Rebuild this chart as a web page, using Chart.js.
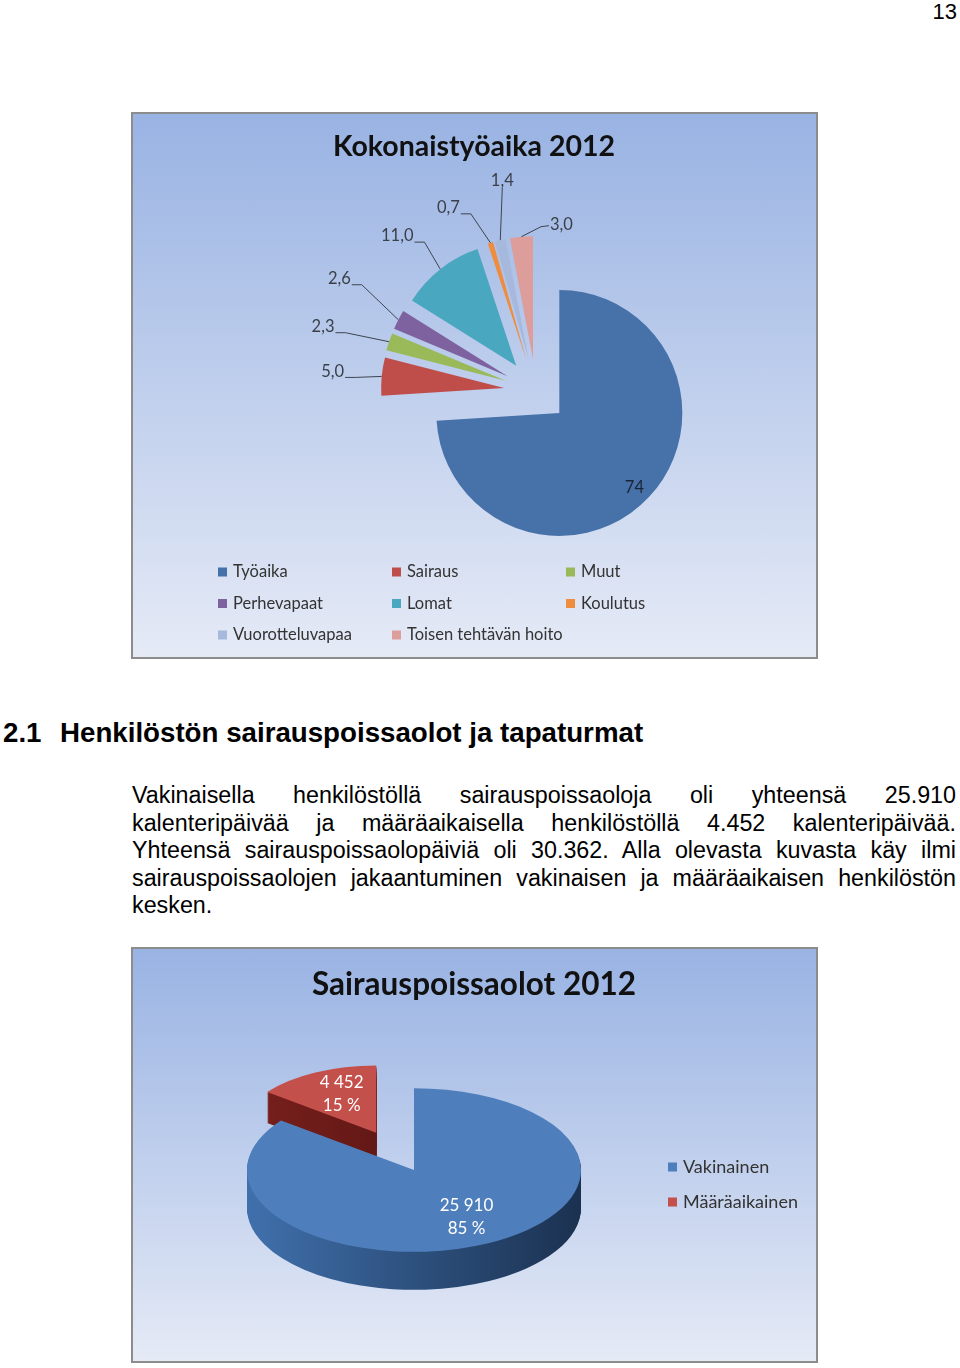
<!DOCTYPE html>
<html lang="fi">
<head>
<meta charset="utf-8">
<title>Kokonaistyöaika ja sairauspoissaolot 2012</title>
<script src="https://cdn.jsdelivr.net/npm/chart.js@4.4.1/dist/chart.umd.min.js"></script>
<style>
  html, body { margin: 0; padding: 0; background: #fff; }
  #page { position: relative; width: 960px; height: 1368px; overflow: hidden;
          font-family: "Liberation Sans", Arial, sans-serif; color: #000; }
  .pageno { position: absolute; right: 3px; top: -1px; font-size: 22px; }
  .box { position: absolute; left: 131px; width: 683px; border: 2px solid #8c8c8c;
         background: linear-gradient(to bottom, #99b3e3, #e5eaf6); }
  #box1 { top: 112px; height: 543px; }
  #box2 { top: 947px; height: 412px; }
  .box canvas { display: block; }
  .heading { position: absolute; top: 717px; margin: 0; font-size: 27.7px; font-weight: bold; white-space: nowrap; }
  .para { position: absolute; left: 132px; top: 782px; width: 824px; font-size: 23.3px; line-height: 27.5px; }
  .para .line { text-align: justify; text-align-last: justify; }
  .para .last { text-align: left; }
</style>
</head>
<body>
<div id="page">
  <div class="pageno">13</div>

  <div class="box" id="box1"><canvas id="workChart" width="683" height="543"></canvas></div>

  <div class="heading" style="left:3px">2.1</div>
  <div class="heading" style="left:60px">Henkilöstön sairauspoissaolot ja tapaturmat</div>

  <div class="para">
    <div class="line">Vakinaisella henkilöstöllä sairauspoissaoloja oli yhteensä 25.910</div>
    <div class="line">kalenteripäivää ja määräaikaisella henkilöstöllä 4.452 kalenteripäivää.</div>
    <div class="line">Yhteensä sairauspoissaolopäiviä oli 30.362. Alla olevasta kuvasta käy ilmi</div>
    <div class="line">sairauspoissaolojen jakaantuminen vakinaisen ja määräaikaisen henkilöstön</div>
    <div class="last">kesken.</div>
  </div>

  <div class="box" id="box2"><canvas id="sickChart" width="683" height="412"></canvas></div>
</div>

<script>
// Kokonaistyöaika 2012 (%)
const workLabels = ['Työaika', 'Sairaus', 'Muut', 'Perhevapaat', 'Lomat', 'Koulutus', 'Vuorotteluvapaa', 'Toisen tehtävän hoito'];
const workShares = [74, 5.0, 2.3, 2.6, 11.0, 0.7, 1.4, 3.0];
const workShareText = ['74', '5,0', '2,3', '2,6', '11,0', '0,7', '1,4', '3,0'];
const workColors = ['#4672a9', '#bf4e4b', '#9aba5a', '#7e62a0', '#4aa7c0', '#f08c3e', '#a6b8dc', '#dc9d9b'];

// Sairauspoissaolot 2012 (kalenteripäivää)
const sickLabels = ['Vakinainen', 'Määräaikainen'];
const sickDays = [25910, 4452];
const sickColors = ['#4e7fbc', '#c4504c'];
const sickSideColors = [['#4070ac', '#1b3150'], ['#7a201d', '#4d110f']];

// label placement relative to the slice edge (null = inside the slice)
const workLabelNudge = [null, [-49, -5], [-66, -15], [-59, -41], [-43, -33], [-42, -35], [2, -59], [40, -12]];
// fake 3D: vertical squash, wall depth, far slice drawn a bit smaller (perspective)
const SQUASH = 0.49;
const DEPTH = 38;
const sickExplode = [0, 85];
const sickPerspective = [1, 0.82];
const sickLabelRadius = [0.68, 0.6];

function explodeArcs(chart, gaps, scales) {
    const area = chart.chartArea;
    const cx = (area.left + area.right) / 2;
    const cy = (area.top + area.bottom) / 2;
    chart.getDatasetMeta(0).data.forEach(function(arc, i) {
        const mid = (arc.startAngle + arc.endAngle) / 2;
        arc.x = cx + Math.cos(mid) * gaps[i];
        arc.y = cy + Math.sin(mid) * gaps[i];
        if (scales) arc.outerRadius = chart.options.radius * scales[i];
    });
}

function spaced(n) {
    return String(n).replace(/\B(?=(\d{3})+(?!\d))/g, ' ');
}

const workDecor = {
    id: 'workDecor',
    afterUpdate(chart) {
        explodeArcs(chart, workShares.map(() => 32));
    },
    afterDraw(chart) {
        const ctx = chart.ctx;
        ctx.save();
        ctx.textAlign = 'center';
        ctx.textBaseline = 'middle';

        ctx.font = 'bold 28.5px Lato';
        ctx.fillStyle = '#111';
        ctx.fillText('Kokonaistyöaika 2012', 341, 33);

        ctx.font = '16.5px Lato';
        ctx.strokeStyle = '#3d444e';
        ctx.lineWidth = 1;
        chart.getDatasetMeta(0).data.forEach(function(arc, i) {
            const mid = (arc.startAngle + arc.endAngle) / 2;
            const dx = Math.cos(mid), dy = Math.sin(mid);
            const text = workShareText[i];
            const nudge = workLabelNudge[i];
            if (!nudge) {
                const r = arc.outerRadius * 0.86;
                ctx.fillStyle = '#1a2435';
                ctx.fillText(text, arc.x + dx * r - 2, arc.y + dy * r + 2);
                return;
            }
            const ax = arc.x + dx * arc.outerRadius;
            const ay = arc.y + dy * arc.outerRadius;
            const lx = ax + nudge[0], ly = ay + nudge[1];
            ctx.fillStyle = '#3a3f48';
            ctx.fillText(text, lx, ly);
            const half = ctx.measureText(text).width / 2;
            ctx.beginPath();
            if (Math.abs(nudge[0]) < 12) {
                ctx.moveTo(lx, ly + 7);
            } else if (nudge[0] < 0) {
                ctx.moveTo(lx + half + 1, ly + 6);
                ctx.lineTo(lx + half + 11, ly + 6);
            } else {
                ctx.moveTo(lx - half - 1, ly + 1);
                ctx.lineTo(lx - half - 9, ly + 2);
            }
            ctx.lineTo(ax, ay);
            ctx.stroke();
        });

        // legend, three columns
        const cols = [85, 259, 433];
        ctx.textAlign = 'left';
        workLabels.forEach(function(name, i) {
            const x = cols[i % 3];
            const y = 458 + Math.floor(i / 3) * 31.5;
            ctx.fillStyle = workColors[i];
            ctx.fillRect(x, y - 4.5, 9, 9);
            ctx.fillStyle = '#333';
            ctx.fillText(name, x + 15, y);
        });
        ctx.restore();
    }
};

const sickDecor = {
    id: 'sickDecor',
    afterUpdate(chart) {
        explodeArcs(chart, sickExplode, sickPerspective);
    },
    beforeDatasetsDraw(chart) {
        const ctx = chart.ctx;
        const area = chart.chartArea;
        const cx = (area.left + area.right) / 2;
        const cy = (area.top + area.bottom) / 2;
        ctx.save();
        ctx.translate(cx, cy);
        ctx.scale(1, SQUASH);
        ctx.translate(-cx, -cy);
        // side walls, back slice first
        const arcs = chart.getDatasetMeta(0).data;
        for (let i = arcs.length - 1; i >= 0; i--) {
            const arc = arcs[i];
            const g = ctx.createLinearGradient(arc.x - arc.outerRadius, 0, arc.x + arc.outerRadius, 0);
            g.addColorStop(0, sickSideColors[i][0]);
            g.addColorStop(1, sickSideColors[i][1]);
            const ghost = Object.create(arc);
            ghost.options = Object.assign({}, arc.options, { backgroundColor: g, borderColor: g, borderWidth: 0 });
            const depth = Math.round(DEPTH * sickPerspective[i]);
            for (let d = depth; d > 0; d--) {
                ctx.save();
                ctx.translate(0, d / SQUASH);
                ghost.draw(ctx);
                ctx.restore();
            }
        }
    },
    afterDatasetsDraw(chart) {
        chart.ctx.restore();
    },
    afterDraw(chart) {
        const ctx = chart.ctx;
        const area = chart.chartArea;
        const cy = (area.top + area.bottom) / 2;
        const total = sickDays.reduce((a, b) => a + b, 0);
        ctx.save();
        ctx.textAlign = 'center';
        ctx.textBaseline = 'middle';

        ctx.font = 'bold 31.5px Lato';
        ctx.fillStyle = '#111';
        ctx.fillText('Sairauspoissaolot 2012', 341, 36);

        ctx.font = '17px Lato';
        ctx.fillStyle = '#fff';
        chart.getDatasetMeta(0).data.forEach(function(arc, i) {
            const mid = (arc.startAngle + arc.endAngle) / 2;
            const r = arc.outerRadius * sickLabelRadius[i];
            const x = arc.x + Math.cos(mid) * r;
            const y = cy + (arc.y + Math.sin(mid) * r - cy) * SQUASH;
            ctx.fillText(spaced(sickDays[i]), x + 2, y - 14);
            ctx.fillText(Math.round(sickDays[i] / total * 100) + ' %', x + 2, y + 9);
        });

        ctx.font = '18px Lato';
        ctx.textAlign = 'left';
        sickLabels.forEach(function(name, i) {
            const y = 218 + i * 35;
            ctx.fillStyle = sickColors[i];
            ctx.fillRect(535, y - 4.5, 9, 9);
            ctx.fillStyle = '#333';
            ctx.fillText(name, 550, y);
        });
        ctx.restore();
    }
};

function drawCharts() {
    new Chart(document.getElementById('workChart'), {
        type: 'pie',
        data: {
            labels: workLabels,
            datasets: [{ data: workShares, backgroundColor: workColors, borderWidth: 0 }]
        },
        options: {
            responsive: false,
            animation: false,
            events: [],
            radius: 123,
            layout: { padding: { left: 133, right: 10, top: 21, bottom: 10 } },
            plugins: { legend: { display: false }, tooltip: { enabled: false } }
        },
        plugins: [workDecor]
    });

    new Chart(document.getElementById('sickChart'), {
        type: 'pie',
        data: {
            labels: sickLabels,
            datasets: [{ data: sickDays, backgroundColor: sickColors, borderWidth: 0, clip: false }]
        },
        options: {
            responsive: false,
            animation: false,
            events: [],
            radius: 167,
            layout: { padding: { left: 10, right: 131, top: 40, bottom: 10 } },
            plugins: { legend: { display: false }, tooltip: { enabled: false } }
        },
        plugins: [sickDecor]
    });
}

Promise.all([
    document.fonts.load('bold 26px Lato'),
    document.fonts.load('15px Lato')
]).then(drawCharts, drawCharts);
</script>
</body>
</html>
